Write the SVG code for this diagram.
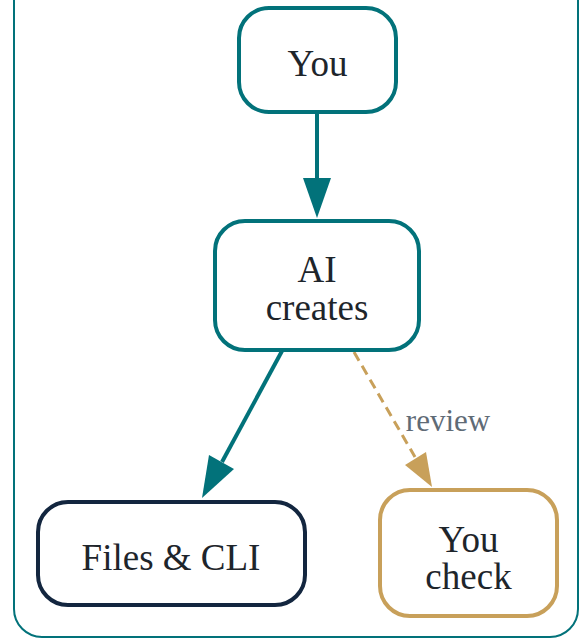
<svg xmlns="http://www.w3.org/2000/svg" width="581" height="639" viewBox="0 0 581 639">
<style>
.node rect{fill:#fff;stroke-width:4}
.t{font-family:'Liberation Serif','Times New Roman',serif;font-size:37px;fill:#1e252b;text-anchor:middle}
.lbl{font-family:'Liberation Serif','Times New Roman',serif;font-size:31px;fill:#5f6b76;text-anchor:middle}
</style>
<rect x="14" y="-40" width="564" height="677" rx="28" fill="none" stroke="#02727a" stroke-width="2"/>
<g id="connectors" fill="none" stroke-width="4">
<line x1="317" y1="113" x2="317" y2="180" stroke="#02727a"/>
<polygon points="303,178 331,178 317,218" fill="#02727a" stroke="none"/>
<line x1="282" y1="351" x2="222" y2="462" stroke="#02727a"/>
<polygon points="209,455 234,469 202,498" fill="#02727a" stroke="none"/>
<line x1="354" y1="352" x2="415" y2="457" stroke="#c8a05a" stroke-width="3" stroke-dasharray="10,6"/>
<polygon points="405,465 426,452 432,487" fill="#c8a05a" stroke="none"/>
<text class="lbl" x="448" y="431">review</text>
</g>
<g id="you" class="node">
<rect x="239" y="8" width="157" height="104" rx="30" stroke="#02727a"/>
<text class="t" x="317.5" y="76">You</text>
</g>
<g id="ai" class="node">
<rect x="215" y="221" width="204" height="129" rx="30" stroke="#02727a"/>
<text class="t" x="317" y="282">AI</text>
<text class="t" x="317" y="320">creates</text>
</g>
<g id="files" class="node">
<rect x="38" y="502" width="267" height="103" rx="30" stroke="#13263f"/>
<text class="t" x="171" y="570">Files &amp; CLI</text>
</g>
<g id="check" class="node">
<rect x="380" y="490" width="177" height="126" rx="30" stroke="#c8a05a"/>
<text class="t" x="468.5" y="552">You</text>
<text class="t" x="468.5" y="589">check</text>
</g>
</svg>
